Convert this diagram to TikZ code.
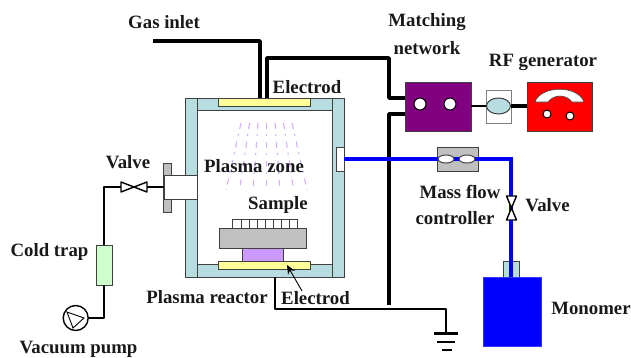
\documentclass[tikz,border=0pt]{standalone}
\usepackage{fontspec}
\setmainfont{Liberation Serif}
\usetikzlibrary{arrows.meta,shapes.geometric}
\definecolor{wallc}{HTML}{B8DDE1}
\definecolor{elecc}{HTML}{FFFF99}
\definecolor{trapc}{HTML}{CCFFCC}
\definecolor{plasmac}{HTML}{CC99FF}
\definecolor{greyc}{HTML}{C0C0C0}
\definecolor{edgec}{HTML}{404040}
\definecolor{matchc}{HTML}{800080}
\begin{document}
\begin{tikzpicture}[x=1pt,y=-1pt,
    part/.style={draw=edgec,line width=1pt,inner sep=0,outer sep=0,minimum width=#1},
    hgt/.style={minimum height=#1},
    lbl/.style={font=\fontsize{18.8}{18.8}\selectfont\bfseries,inner sep=0,text=black!90},
    wire/.style={line width=3.4pt,line join=round},
    thin wire/.style={line width=1.8pt,line join=round},
    feed/.style={line width=4pt,blue},
    hole/.style={draw=black,fill=white,circle,line width=1pt,inner sep=0,minimum size=#1},
    lens/.style={draw=edgec,fill=white,ellipse,line width=1pt,inner sep=0,minimum width=16pt,minimum height=8pt}]
    \useasboundingbox (0,0) rectangle (631,357);

    % reactor
    \node[part=135pt,hgt=12pt,fill=wallc] (topband) at (264.5,104) {};
    \node[part=135pt,hgt=13pt,fill=wallc] (botband) at (264.5,270.5) {};
    \node[part=12pt,hgt=179pt,fill=wallc] (lwall) at (191,187.5) {};
    \node[part=12pt,hgt=179pt,fill=wallc] (rwall) at (338,187.5) {};
    \node[part=92pt,hgt=8pt,fill=elecc] (topel) at (264,102) {};
    \node[part=92pt,hgt=8pt,fill=elecc] (botel) at (264,265) {};
    \node[part=8pt,hgt=49pt,fill=greyc] (flange) at (167,187.5) {};
    \node[part=33pt,hgt=24pt,fill=white] (port) at (180.5,187) {};
    \node[part=8pt,hgt=24pt,fill=white] (rport) at (340,159) {};

    % plasma
    \foreach \k in {-3,...,3}
      \draw[plasmac!80!white,line width=1.1pt,dash pattern=on 6pt off 5pt on 2pt off 6pt]
        (266.5+\k*8.5,123) -- (266.5+\k*13.5,190);

    % sample stage
    \node[part=41pt,hgt=13pt,fill=plasmac] (heater) at (262.5,254.5) {};
    \node[part=87pt,hgt=20pt,fill=greyc] (stage) at (263,238) {};
    \foreach \i in {0,...,7}
      \node[part=8.1pt,hgt=9pt,fill=white] (s\i) at (237+\i*8.1,223.5) {};

    % rf side
    \node[part=66pt,hgt=49pt,fill=matchc] (match) at (438,106.5) {};
    \node[hole=12pt] (h1) at (420,104) {};
    \node[hole=12pt] (h2) at (450,104) {};
    \node[part=25pt,hgt=33pt,fill=white,draw=gray] (tuner) at (498.5,106.5) {};
    \node[draw=edgec,fill=wallc,ellipse,line width=1pt,inner sep=0,minimum width=24pt,minimum height=16pt] (coil) at (498.5,106) {};
    \node[part=65pt,hgt=49pt,fill=red] (rfgen) at (559.5,106.5) {};
    \node[hole=8pt] (h3) at (547,114) {};
    \node[hole=8pt] (h4) at (570,116) {};
    \fill[white,draw=edgec,line width=.6pt] (535,102) .. controls (541,85) and (578,85) .. (584,102)
      -- (572,102) .. controls (566,94) and (554,94) .. (548,102) -- cycle;
    \draw[thin wire] (match.east |- coil) -- (coil);
    \draw[wire] (coil) -- (rfgen.west |- coil);

    % gas and rf wires
    \coordinate (gasin) at (153,41);
    \coordinate (gasend) at (260,98);
    \coordinate (rfup) at (267,98);
    \coordinate (rfa) at (389,58);
    \coordinate (rfb) at (405,98);
    \coordinate (rfc) at (405,114);
    \coordinate (rfd) at (389,305);
    \draw[wire] (gasin) -| (gasend);
    \draw[wire] (rfup) |- (rfa) |- (rfb);
    \draw[wire] (rfc) -| (rfd);

    % ground
    \coordinate (gndtop) at (275,277);
    \coordinate (gndturn) at (275,309);
    \node[inner sep=0,minimum width=24pt,minimum height=0pt] (g1) at (446,333.5) {};
    \draw[thin wire] (gndtop) -- (gndturn) -| (g1.center);
    \draw[line width=2.2pt] (g1.west) -- (g1.east);
    \node[inner sep=0,minimum width=17pt] (g2) at (446,342) {};
    \draw[line width=2.2pt] (g2.west) -- (g2.east);
    \node[inner sep=0,minimum width=9pt] (g3) at (447,350) {};
    \draw[line width=2.2pt] (g3.west) -- (g3.east);

    % monomer feed
    \node[part=41pt,hgt=24pt,fill=greyc] (mfc) at (457.5,159) {};
    \node[part=16pt,hgt=16pt,fill=wallc] (neck) at (511,269) {};
    \node[draw=blue!80!white,fill=blue,inner sep=0,minimum width=58pt,minimum height=69pt] (tank) at (512,311.5) {};
    \coordinate (feedturn) at (511,159);
    \draw[feed] (rport.east) -- (feedturn) -- (tank.north -| feedturn);
    \node[lens] (l1) at (446,159) {};
    \node[lens] (l2) at (467,159) {};
    \draw[draw=black,fill=white,line width=1.4pt,line join=round]
      (506.5,196) -- (516.5,196) -- (506.5,220) -- (516.5,220) -- cycle;

    % pump side
    \node[part=16pt,hgt=40pt,fill=trapc] (trap) at (104,265) {};
    \node[draw=black,fill=white,circle,line width=1.4pt,inner sep=0,minimum size=25pt] (pump) at (75.7,318) {};
    \coordinate (vcorner) at (104,187);
    \draw[thin wire] (port.west) -- (vcorner) -- (trap.north);
    \draw[thin wire] (trap.south) |- (pump.east);
    \draw[draw=black,fill=white,line width=1.4pt,line join=round]
      (121,182) -- (147,192) -- (147,182) -- (121,192) -- cycle;
    \draw[line width=.9pt] (67,312) -- (84,318) -- (73,328) -- cycle;

    % labels
    \node[lbl] (gastxt) at (164,22) {Gas inlet};
    \node[lbl] (matchtxt) at (427,22) {Matching};
    \node[lbl] (nettxt) at (427,48) {network};
    \node[lbl] (rftxt) at (543,62) {RF generator};
    \node[lbl] (eltop) at (307,87) {Electrod};
    \node[lbl] (valvel) at (128,162) {Valve};
    \node[lbl] (zonetxt) at (254,166) {Plasma zone};
    \node[lbl] (sampletxt) at (278,205) {Sample};
    \node[lbl] (traptxt) at (49.5,252) {Cold trap};
    \node[lbl] (reactortxt) at (207,297) {Plasma reactor};
    \node[lbl] (elbot) at (315.5,298) {Electrod};
    \node[lbl] (mfctxt) at (460,192) {Mass flow};
    \node[lbl] (ctrltxt) at (455,218) {controller};
    \node[lbl] (valver) at (547.5,205) {Valve};
    \node[lbl] (montxt) at (591,308) {Monomer};
    \node[lbl] (vactxt) at (78.5,349) {Vacuum pump};

    \draw[-{Stealth[length=9pt,width=8pt]},line width=.9pt] (302,291) -- (287,265);
\end{tikzpicture}
\end{document}
